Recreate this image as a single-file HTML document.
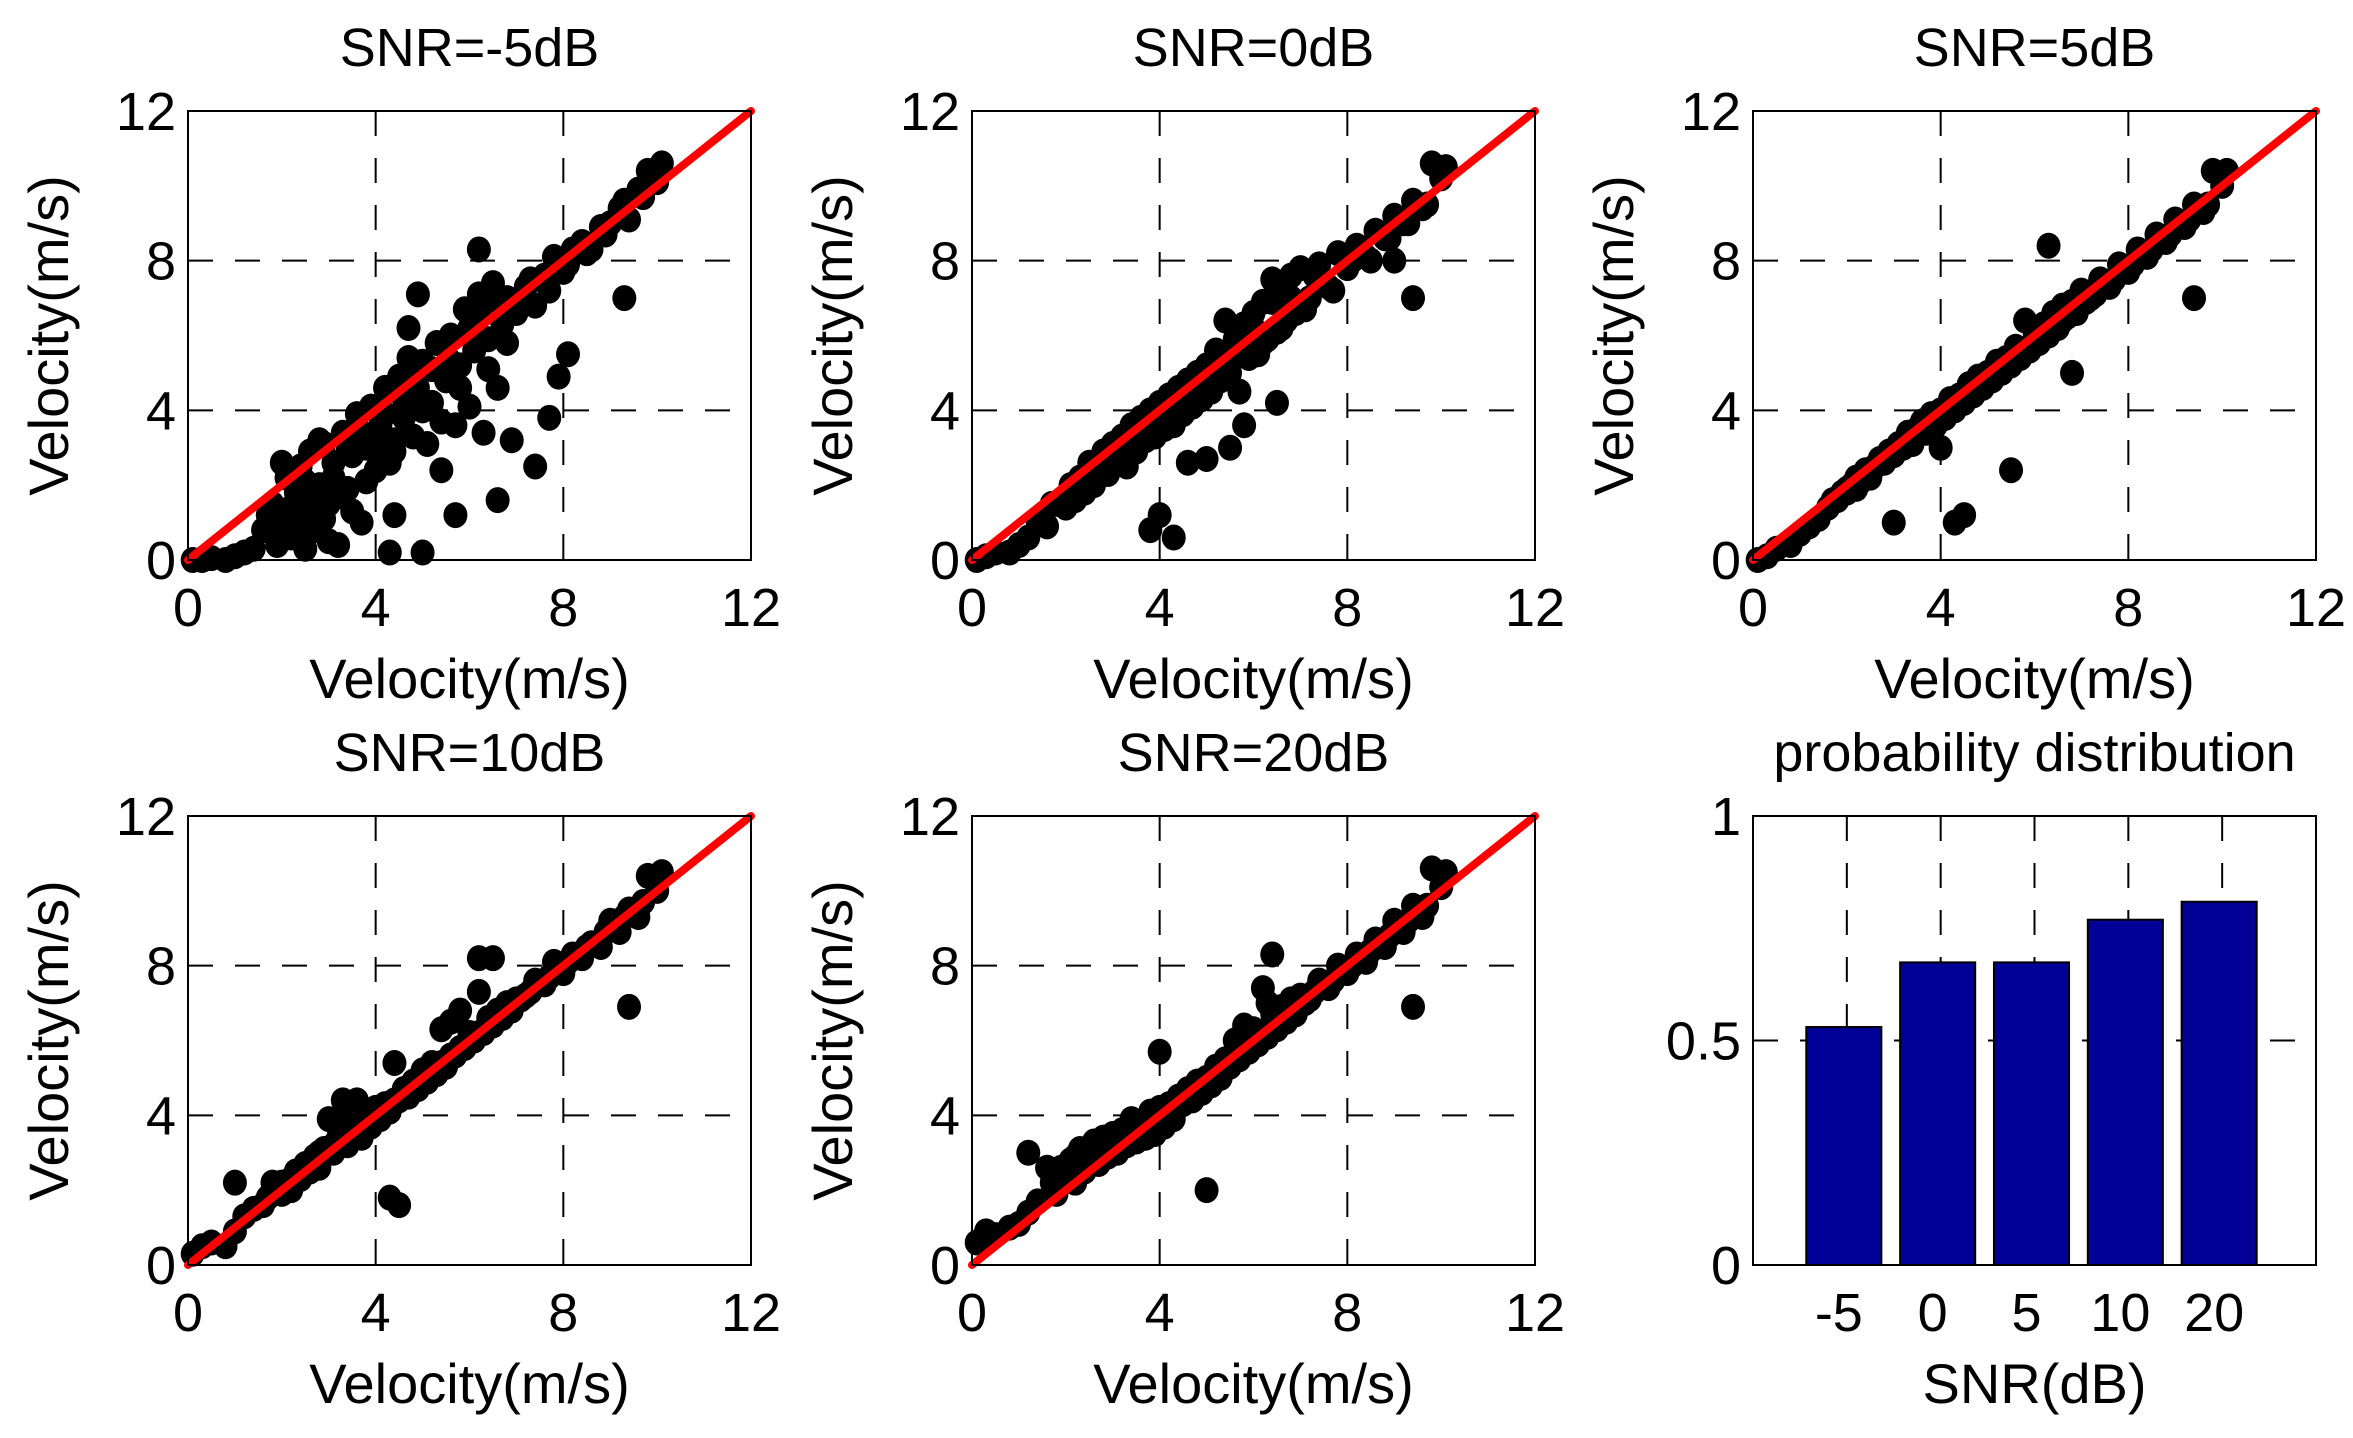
<!DOCTYPE html>
<html><head><meta charset="utf-8"><style>
html,body{margin:0;padding:0;background:#fff}
svg{display:block}
text{font-family:"Liberation Sans",Arial,sans-serif;fill:#000}
</style></head><body>
<svg id="fig" width="2353" height="1438" viewBox="0 0 2353 1438" xmlns="http://www.w3.org/2000/svg"></svg>
<script>
const xs = [0.1,0.3,0.5,0.8,1.0,1.2,1.4,1.6,1.8,2.0,2.1,2.2,2.3,2.4,2.5,2.6,2.7,2.8,2.9,3.0,3.1,3.2,3.3,3.4,3.5,3.6,3.7,3.8,3.9,4.0,4.1,4.2,4.3,4.4,4.5,4.6,4.7,4.8,4.9,5.0,5.1,5.2,5.3,5.4,5.5,5.6,5.7,5.8,5.9,6.0,6.1,6.2,6.3,6.4,6.5,6.6,6.7,6.8,6.9,7.0,7.2,7.4,7.6,7.8,8.0,8.2,8.4,8.6,8.8,9.0,9.2,9.4,9.6,9.8,10.0,10.1];
const ysA = [0,0,0.05,0,0.1,0.2,0.3,0.8,1.5,1.0,2.2,0.6,1.8,2.5,1.2,2.9,0.8,2.0,3.1,1.5,2.6,0.4,3.4,1.9,2.8,3.9,1.0,3.0,4.1,2.4,3.6,4.6,2.6,3.2,4.9,3.8,5.4,3.3,4.6,5.3,3.1,4.2,5.8,2.4,4.8,6.0,3.6,5.2,6.7,4.1,5.6,7.1,3.4,5.9,7.4,4.6,6.3,7.0,3.2,6.6,7.3,6.8,7.6,8.1,7.7,8.3,8.5,8.3,8.9,9.0,9.4,9.1,9.9,10.4,10.1,10.6];
const ysB = [0,0.1,0.2,0.2,0.4,0.6,1.0,0.9,1.5,1.4,2.0,1.6,2.2,1.8,2.6,2.0,2.5,2.9,2.3,3.1,2.6,3.3,2.5,3.6,2.9,3.8,3.2,4.0,3.3,4.2,3.5,4.4,3.6,4.6,3.9,4.8,4.1,5.0,4.3,5.2,4.5,5.6,4.8,6.4,5.0,5.9,4.5,6.3,5.4,6.6,5.5,6.9,5.9,7.5,6.1,7.3,6.4,7.6,6.6,7.8,7.0,7.9,7.3,8.2,7.8,8.4,8.1,8.8,8.6,9.2,9.0,9.6,9.4,10.6,10.2,10.5];
const ysC = [0,0.1,0.3,0.4,0.7,0.9,1.1,1.4,1.6,1.8,2.0,1.9,2.1,2.4,2.2,2.5,2.7,2.6,2.9,2.8,3.1,3.0,3.4,3.1,3.5,3.7,3.4,3.9,3.6,4.0,3.8,4.3,4.0,4.4,4.2,4.7,4.4,4.9,4.6,5.0,4.8,5.3,5.0,5.4,5.2,5.7,5.4,6.4,5.6,6.1,5.8,6.3,6.0,6.6,6.2,6.8,6.5,6.9,6.6,7.2,7.0,7.5,7.3,7.9,7.7,8.3,8.1,8.7,8.5,9.1,8.9,9.5,9.3,10.4,10.0,10.4];
const ysD = [0.3,0.5,0.6,0.5,0.9,1.3,1.5,1.6,2.2,1.9,2.2,2.0,2.5,2.3,2.7,2.5,2.9,2.6,3.1,3.9,3.0,3.4,3.9,3.2,3.6,4.4,3.4,3.9,3.7,4.2,3.9,4.3,4.1,5.4,4.4,4.7,4.5,4.9,4.7,5.2,4.9,5.4,5.1,6.3,5.3,6.5,5.6,6.8,5.8,6.2,6.0,7.3,6.2,6.6,6.4,6.8,6.6,7.0,6.8,7.1,7.2,7.6,7.5,8.1,7.8,8.3,8.2,8.6,8.5,9.2,8.9,9.5,9.3,10.4,10.0,10.5];
const ysE = [0.6,0.7,0.8,1.0,1.1,1.4,1.7,2.6,1.9,2.3,2.8,2.2,3.1,2.5,2.9,3.3,2.7,3.4,2.9,3.5,3.0,3.6,3.2,3.9,3.3,3.8,3.4,4.1,3.5,4.2,3.7,4.3,3.9,4.5,4.3,4.7,4.4,4.9,4.6,5.0,4.8,5.3,5.0,5.5,5.3,6.0,5.5,6.4,5.7,6.3,5.9,7.4,6.1,6.7,6.3,6.9,6.5,7.1,6.7,7.2,7.1,7.6,7.4,8.0,7.8,8.3,8.1,8.7,8.5,9.2,8.9,9.6,9.3,10.6,10.1,10.5];
const xs2 = [1.7,1.9,2.0,2.2,2.3,2.5,2.6,2.8,2.9,3.1,3.2,3.4,3.5,3.7,3.8,4.0,4.2,4.4,4.6,4.8,5.0,5.2,5.4,5.6,5.8,6.0,6.2,6.4,6.6,6.8,7.1,7.3,7.7,8.1,8.5,8.9,9.3,9.7];
const ysA2 = [1.2,0.4,2.6,1.4,0.9,2.1,1.6,3.2,1.1,2.2,1.7,2.9,1.3,3.4,2.1,3.0,3.9,2.9,4.3,4.8,4.0,5.1,3.7,5.3,4.6,6.2,6.6,5.1,6.9,5.8,7.0,7.5,7.2,7.9,8.2,8.7,9.6,9.7];
const ysB2 = [1.5,1.6,1.7,1.9,2.1,2.2,2.5,2.6,2.8,2.8,3.1,3.0,3.4,3.3,3.6,3.6,4.0,4.0,4.3,4.4,4.7,4.9,5.2,5.5,5.6,6.2,5.8,6.9,6.2,7.0,6.7,7.6,7.2,8.0,8.0,8.6,9.0,9.5];
const ysC2 = [1.6,1.8,1.9,2.2,2.2,2.4,2.5,2.7,2.8,3.0,3.1,3.3,3.4,3.6,3.7,3.9,4.1,4.2,4.5,4.6,4.9,5.0,5.3,5.5,5.6,5.9,6.0,6.2,6.4,6.6,6.9,7.1,7.5,7.9,8.3,8.7,9.1,9.5];
const ysD2 = [1.8,2.0,2.2,2.3,2.5,2.6,2.7,3.0,3.0,3.2,3.3,3.5,3.6,3.8,3.9,4.0,4.2,4.4,4.7,4.8,5.0,5.3,5.4,5.6,5.8,6.1,6.2,6.4,6.7,6.8,7.1,7.3,7.7,8.1,8.5,8.9,9.3,9.7];
const ysE2 = [2.2,2.6,2.5,2.9,2.8,3.1,3.0,3.4,3.2,3.5,3.4,3.7,3.6,3.8,3.9,4.1,4.2,4.4,4.6,4.7,4.9,5.1,5.3,5.5,5.7,5.9,6.1,6.3,6.6,6.8,7.0,7.3,7.6,8.0,8.4,8.8,9.2,9.6];
const outA_x = [4.9,6.2,9.3,8.1,7.9,7.7,4.4,5.7,5.0,4.3,6.6,7.4,4.7,3.0,2.5];
const outA_y = [7.1,8.3,7.0,5.5,4.9,3.8,1.2,1.2,0.2,0.2,1.6,2.5,6.2,0.5,0.3];
const outB_x = [5.0,5.8,9.4,4.3,4.0,5.5,4.6,3.8,9.0,6.5];
const outB_y = [2.7,3.6,7.0,0.6,1.2,3.0,2.6,0.8,8.0,4.2];
const outC_x = [3.0,4.3,4.5,9.4,5.5,6.3,6.8,4.0];
const outC_y = [1.0,1.0,1.2,7.0,2.4,8.4,5.0,3.0];
const outD_x = [9.4,4.3,4.5,6.2,6.5,3.3,1.0];
const outD_y = [6.9,1.8,1.6,8.2,8.2,4.4,2.2];
const outE_x = [9.4,6.3,5.0,4.0,6.4,1.2,0.3];
const outE_y = [6.9,7.0,2.0,5.7,8.3,3.0,0.9];
const velTicks = [0,4,8,12];
const snrLabels = ["-5","0","5","10","20"];
const probs = [0.53,0.674,0.674,0.769,0.809];
const probTicks = [0,0.5,1];
const probTickLabels = ["0","0.5","1"];

const NS="http://www.w3.org/2000/svg";
const svg=document.getElementById('fig');
function el(tag,attrs,parent){const e=document.createElementNS(NS,tag);for(const k in attrs)e.setAttribute(k,attrs[k]);(parent||svg).appendChild(e);return e;}
function txt(s,x,y,anchor,parent,extra){const t=el('text',Object.assign({x:x,y:y,'text-anchor':anchor,'font-size':54},extra||{}),parent);t.textContent=s;return t;}

const panels=[
 {title:"SNR=-5dB",L:188,T:111,ys:ysA,ys2:ysA2,ox:outA_x,oy:outA_y},
 {title:"SNR=0dB",L:972,T:111,ys:ysB,ys2:ysB2,ox:outB_x,oy:outB_y},
 {title:"SNR=5dB",L:1753,T:111,ys:ysC,ys2:ysC2,ox:outC_x,oy:outC_y},
 {title:"SNR=10dB",L:188,T:816,ys:ysD,ys2:ysD2,ox:outD_x,oy:outD_y},
 {title:"SNR=20dB",L:972,T:816,ys:ysE,ys2:ysE2,ox:outE_x,oy:outE_y}
];
const W=563,H=449;
panels.forEach((p,i)=>{
  const g=el('g',{});
  
  
  const sx=v=>p.L+v/12*W, sy=v=>p.T+H-v/12*H;
  el('rect',{x:p.L,y:p.T,width:W,height:H,fill:'#fff'},g);
  [4,8].forEach(v=>{
    const gx=el('line',{x1:sx(v),x2:sx(v),y1:p.T,y2:p.T+H,stroke:'#000','stroke-width':2,'stroke-dasharray':'25,22'},g);
    
    
    const gy=el('line',{x1:p.L,x2:p.L+W,y1:sy(v),y2:sy(v),stroke:'#000','stroke-width':2,'stroke-dasharray':'25,22'},g);
    
    
  });
  const pts=el('g',{fill:'#000'},g);
  
  
  xs.forEach((x,k)=>{const c=el('ellipse',{cx:sx(x),cy:sy(p.ys[k]),rx:12,ry:13},pts);
    
    });
  xs2.forEach((x,k)=>{const c=el('ellipse',{cx:sx(x),cy:sy(p.ys2[k]),rx:12,ry:13},pts);
    
    });
  p.ox.forEach((x,k)=>{const c=el('ellipse',{cx:sx(x),cy:sy(p.oy[k]),rx:12,ry:13},pts);
    
    });
  const rl=el('line',{x1:sx(0),y1:sy(0),x2:sx(12),y2:sy(12),stroke:'#ff0000','stroke-width':8,'stroke-linecap':'round'},g);
  
  
  const fr=el('rect',{x:p.L,y:p.T,width:W,height:H,fill:'none',stroke:'#000','stroke-width':2},g);
  
  
  velTicks.forEach(v=>{
    const tx=txt(String(v),sx(v),p.T+H+66,'middle',g);
    
    
    const ty=txt(String(v),p.L-12,sy(v)+19,'end',g);
    
    
  });
  const tt=txt(p.title,p.L+W/2,p.T-45,'middle',g);
  
  
  const xl=txt('Velocity(m/s)',p.L+W/2,p.T+H+138,'middle',g,{'font-size':56});
  
  
  const cx=p.L-140, cy=p.T+H/2;
  const yl=txt('Velocity(m/s)',cx,cy+20,'middle',g,{'font-size':56,transform:`rotate(-90 ${cx} ${cy})`});
  
  
});

(function(){
  const L=1753,T=816,BW=563,BH=449;
  const g=el('g',{});
  
  
  const sx=v=>L+v/6*BW, sy=v=>T+BH-v*BH;
  snrLabels.forEach((s,k)=>{
    const gl=el('line',{x1:sx(k+1),x2:sx(k+1),y1:T,y2:T+BH,stroke:'#000','stroke-width':2,'stroke-dasharray':'25,22'},g);
    
    
  });
  const gy=el('line',{x1:L,x2:L+BW,y1:sy(0.5),y2:sy(0.5),stroke:'#000','stroke-width':2,'stroke-dasharray':'25,22'},g);
  
  
  probs.forEach((v,k)=>{
    const bw=0.8/6*BW;
    const b=el('rect',{x:sx(k+1)-bw/2-3,y:sy(v),width:bw,height:sy(0)-sy(v),fill:'#000096',stroke:'#000','stroke-width':2},g);
    
    
    const t=txt(snrLabels[k],sx(k+1)-8,T+BH+66,'middle',g);
    
    
  });
  const fr=el('rect',{x:L,y:T,width:BW,height:BH,fill:'none',stroke:'#000','stroke-width':2},g);
  
  
  probTicks.forEach((v,k)=>{
    const t=txt(probTickLabels[k],L-12,sy(v)+19,'end',g);
    
    
  });
  const tt=txt('probability distribution',L+BW/2,T-45,'middle',g);
  
  
  const xl=txt('SNR(dB)',L+BW/2,T+BH+138,'middle',g,{'font-size':56});
  
  
})();
</script>
</body></html>
